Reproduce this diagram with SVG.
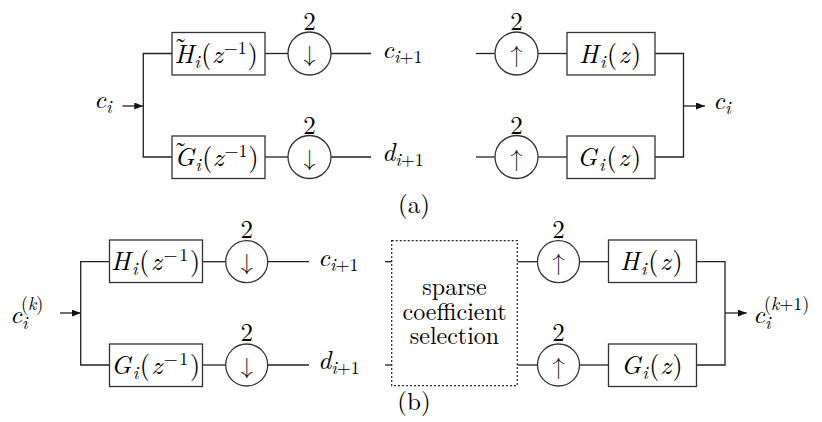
<svg xmlns="http://www.w3.org/2000/svg" width="822" height="422" viewBox="0 0 822 422">
<style>
.ln{stroke:#222;stroke-width:1.3;fill:none}
.bx{fill:#fff;stroke:#333;stroke-width:1.3}
.dot{fill:#fff;stroke:#222;stroke-width:1.2;stroke-dasharray:2 2}
.m{font-family:"Latin Modern Roman","FreeSerif","Liberation Serif",serif;font-style:italic;font-size:26px;fill:#000}
.r{font-style:normal}
.s{font-size:18px}
.t{font-family:"Latin Modern Roman","FreeSerif","Liberation Serif",serif;font-size:25px;fill:#000;text-anchor:middle}
.sp{font-size:24px}
.ar{font-family:"Latin Modern Math","FreeSerif","Noto Sans CJK SC",sans-serif;font-size:24px;fill:#222;text-anchor:middle}
</style>
<defs>
<marker id="ah" markerWidth="9" markerHeight="7" refX="9" refY="3.5" orient="auto" markerUnits="userSpaceOnUse">
<path d="M0,0 L9,3.5 L0,7 Z" fill="#111"/>
</marker>
</defs>
<rect width="822" height="422" fill="#fff"/>

<g id="connectors">
<line class="ln" x1="122.5" y1="106" x2="143.3" y2="106" marker-end="url(#ah)"/>
<polyline class="ln" points="172,53.5 143.3,53.5 143.3,157 172,157"/>
<line class="ln" x1="265" y1="53.5" x2="288" y2="53.5"/>
<line class="ln" x1="331" y1="53.5" x2="371" y2="53.5"/>
<line class="ln" x1="265" y1="157" x2="288" y2="157"/>
<line class="ln" x1="331" y1="157" x2="371" y2="157"/>
<line class="ln" x1="476" y1="53.5" x2="495" y2="53.5"/>
<line class="ln" x1="538" y1="53.5" x2="567" y2="53.5"/>
<line class="ln" x1="476" y1="157" x2="495" y2="157"/>
<line class="ln" x1="538" y1="157" x2="567" y2="157"/>
<polyline class="ln" points="655,53.5 683.5,53.5 683.5,157 655,157"/>
<line class="ln" x1="683.5" y1="106" x2="705" y2="106" marker-end="url(#ah)"/>
<line class="ln" x1="60" y1="313" x2="80.7" y2="313" marker-end="url(#ah)"/>
<polyline class="ln" points="109.5,261.7 80.7,261.7 80.7,365 109.5,365"/>
<line class="ln" x1="202.5" y1="261.7" x2="225.7" y2="261.7"/>
<line class="ln" x1="267.7" y1="261.7" x2="309" y2="261.7"/>
<line class="ln" x1="202.5" y1="365" x2="225.7" y2="365"/>
<line class="ln" x1="267.7" y1="365" x2="309" y2="365"/>
<line class="ln" x1="385" y1="261.7" x2="391.7" y2="261.7"/>
<line class="ln" x1="385" y1="365" x2="391.7" y2="365"/>
<line class="ln" x1="517.3" y1="261.7" x2="537.5" y2="261.7"/>
<line class="ln" x1="517.3" y1="365" x2="537.5" y2="365"/>
<line class="ln" x1="579.5" y1="261.7" x2="608.5" y2="261.7"/>
<line class="ln" x1="579.5" y1="365" x2="608.5" y2="365"/>
<polyline class="ln" points="696.5,261.7 725,261.7 725,365 696.5,365"/>
<line class="ln" x1="725" y1="313" x2="746.7" y2="313" marker-end="url(#ah)"/>
</g>

<g id="in-a">
<text class="m" x="94" y="108">c<tspan class="s" dy="5">i</tspan></text>
</g>
<g id="Ht-a">
<rect class="bx" x="172" y="32.5" width="93" height="42.5"/>
<text class="m"><tspan class="r" x="174" y="55.5">˜</tspan><tspan x="174.5" y="62.5">H</tspan><tspan class="s" dy="5" dx="0.5">i</tspan><tspan class="r" dy="-5" dx="1.5">(</tspan><tspan dx="0.5">z</tspan><tspan class="s r" dy="-9" dx="1">−1</tspan><tspan class="r" dy="9" dx="1">)</tspan></text>
</g>
<g id="Gt-a">
<rect class="bx" x="172" y="136" width="93" height="42.5"/>
<text class="m"><tspan class="r" x="174" y="159.5">˜</tspan><tspan x="174.5" y="166">G</tspan><tspan class="s" dy="5" dx="0.5">i</tspan><tspan class="r" dy="-5" dx="1.5">(</tspan><tspan dx="0.5">z</tspan><tspan class="s r" dy="-9" dx="1">−1</tspan><tspan class="r" dy="9" dx="1">)</tspan></text>
</g>
<g id="down1-a">
<circle class="bx" cx="309.5" cy="53.5" r="21.5"/>
<text class="ar" x="309.5" y="62">↓</text>
<text class="t" x="309.5" y="30">2</text>
</g>
<g id="down2-a">
<circle class="bx" cx="309.5" cy="157" r="21.5"/>
<text class="ar" x="309.5" y="165.5">↓</text>
<text class="t" x="309.5" y="133.5">2</text>
</g>
<g id="c-a">
<text class="m" x="382" y="57.5">c<tspan class="s" dy="5">i<tspan class="r">+1</tspan></tspan></text>
</g>
<g id="d-a">
<text class="m" x="382" y="161">d<tspan class="s" dy="5">i<tspan class="r">+1</tspan></tspan></text>
</g>
<g id="up1-a">
<circle class="bx" cx="516.5" cy="53.5" r="21.5"/>
<text class="ar" x="516.5" y="62">↑</text>
<text class="t" x="516.5" y="30">2</text>
</g>
<g id="up2-a">
<circle class="bx" cx="516.5" cy="157" r="21.5"/>
<text class="ar" x="516.5" y="165.5">↑</text>
<text class="t" x="516.5" y="133.5">2</text>
</g>
<g id="H-a">
<rect class="bx" x="567" y="32.5" width="88" height="42.5"/>
<text class="m" x="579" y="62.5" textLength="62">H<tspan class="s" dy="5">i</tspan><tspan class="r" dy="-5">(</tspan>z<tspan class="r">)</tspan></text>
</g>
<g id="G-a">
<rect class="bx" x="567" y="136" width="88" height="42.5"/>
<text class="m" x="577" y="166" textLength="64">G<tspan class="s" dy="5">i</tspan><tspan class="r" dy="-5">(</tspan>z<tspan class="r">)</tspan></text>
</g>
<g id="out-a">
<text class="m" x="713" y="109">c<tspan class="s" dy="5">i</tspan></text>
</g>
<g id="label-a">
<text class="t" x="414" y="213">(a)</text>
</g>

<g id="in-b">
<text class="m" x="10" y="323">c<tspan class="s" x="22" y="329">i</tspan><tspan class="s" x="21" y="310"><tspan class="r">(</tspan>k<tspan class="r">)</tspan></tspan></text>
</g>
<g id="H-b">
<rect class="bx" x="109.5" y="240" width="93" height="42.5"/>
<text class="m" x="111" y="270" textLength="89">H<tspan class="s" dy="5">i</tspan><tspan class="r" dy="-5">(</tspan>z<tspan class="s r" dy="-9">−1</tspan><tspan class="r" dy="9">)</tspan></text>
</g>
<g id="G-b">
<rect class="bx" x="109.5" y="344" width="93" height="42.5"/>
<text class="m" x="111" y="373.5" textLength="89">G<tspan class="s" dy="5">i</tspan><tspan class="r" dy="-5">(</tspan>z<tspan class="s r" dy="-9">−1</tspan><tspan class="r" dy="9">)</tspan></text>
</g>
<g id="down1-b">
<circle class="bx" cx="246.7" cy="261.7" r="21"/>
<text class="ar" x="246.7" y="270.2">↓</text>
<text class="t" x="246.7" y="238">2</text>
</g>
<g id="down2-b">
<circle class="bx" cx="246.7" cy="365" r="21"/>
<text class="ar" x="246.7" y="373.5">↓</text>
<text class="t" x="246.7" y="341">2</text>
</g>
<g id="c-b">
<text class="m" x="318" y="266">c<tspan class="s" dy="5">i<tspan class="r">+1</tspan></tspan></text>
</g>
<g id="d-b">
<text class="m" x="318" y="369">d<tspan class="s" dy="5">i<tspan class="r">+1</tspan></tspan></text>
</g>
<g id="sparse">
<rect class="dot" x="391.7" y="240.7" width="125.6" height="145"/>
<text class="t sp"><tspan x="454.5" y="295">sparse</tspan><tspan x="454.5" y="320">coefficient</tspan><tspan x="454.5" y="344">selection</tspan></text>
</g>
<g id="up1-b">
<circle class="bx" cx="558.5" cy="261.7" r="21"/>
<text class="ar" x="558.5" y="270.2">↑</text>
<text class="t" x="558.5" y="238">2</text>
</g>
<g id="up2-b">
<circle class="bx" cx="558.5" cy="365" r="21"/>
<text class="ar" x="558.5" y="373.5">↑</text>
<text class="t" x="558.5" y="341">2</text>
</g>
<g id="H2-b">
<rect class="bx" x="608.5" y="240" width="88" height="42.5"/>
<text class="m" x="620" y="270" textLength="62.5">H<tspan class="s" dy="5">i</tspan><tspan class="r" dy="-5">(</tspan>z<tspan class="r">)</tspan></text>
</g>
<g id="G2-b">
<rect class="bx" x="608.5" y="344" width="88" height="42.5"/>
<text class="m" x="621" y="373.5" textLength="61.5">G<tspan class="s" dy="5">i</tspan><tspan class="r" dy="-5">(</tspan>z<tspan class="r">)</tspan></text>
</g>
<g id="out-b">
<text class="m" x="753" y="323">c<tspan class="s" x="765" y="329">i</tspan><tspan class="s" x="764" y="310"><tspan class="r">(</tspan>k<tspan class="r">+1)</tspan></tspan></text>
</g>
<g id="label-b">
<text class="t" x="414" y="410">(b)</text>
</g>
</svg>
